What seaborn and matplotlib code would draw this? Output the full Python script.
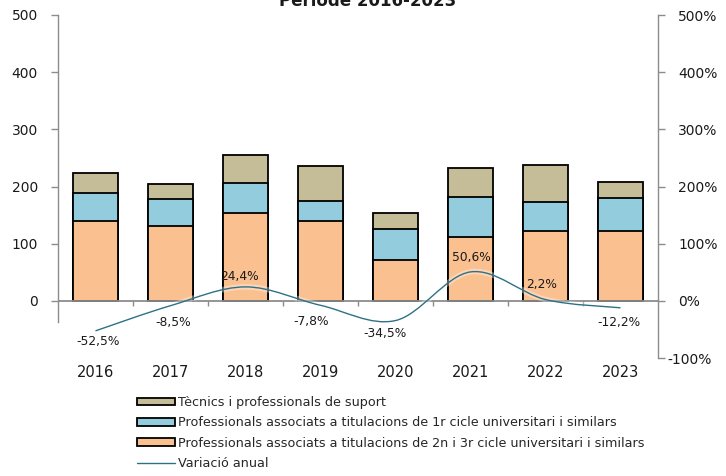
import numpy as np
import pandas as pd
import matplotlib
matplotlib.use("Agg")
import matplotlib.pyplot as plt
import matplotlib.patheffects as pe
import matplotlib.transforms as mtransforms
from matplotlib.path import Path
from matplotlib.patches import PathPatch, Patch
from matplotlib.lines import Line2D
import seaborn as sns

# --- data -------------------------------------------------------------
years = ["2016", "2017", "2018", "2019", "2020", "2021", "2022", "2023"]
cicle_2n_3r = [140, 131, 154, 140, 72, 111, 122, 122]
cicle_1r = [48, 47, 52, 34, 54, 71, 51, 58]
tecnics = [36, 27, 49, 61, 28, 50, 64, 28]
variacio = [-52.5, -8.5, 24.4, -7.8, -34.5, 50.6, 2.2, -12.2]

series_names = [
    "Tècnics i professionals de suport",
    "Professionals associats a titulacions de 1r cicle universitari i similars",
    "Professionals associats a titulacions de 2n i 3r cicle universitari i similars",
    "Variació anual",
]
title = "Període 2016-2023"

# --- style ------------------------------------------------------------
c_tec = "#C4BD97"
c_1r = "#93CDDD"
c_2n = "#FAC090"
c_line = "#2E7186"
c_axis = "#8C8C8C"
c_text = "#1a1a1a"
# label nudges in pixels (dx, dy), dy positive = downward
label_nudge = [(2.5, 10.7), (3, 16.4), (-6, -10), (-9, 16), (-10, 12.6),
               (1, -14.7), (-4, -15.4), (-2, 14.7)]

sns.set_theme(style="white")
plt.rcParams["font.family"] = ["DejaVu Sans"]

df = pd.DataFrame({
    "year": years,
    "c2n": cicle_2n_3r,
    "c1r": cicle_1r,
    "tec": tecnics,
})
df["lvl2"] = df["c2n"] + df["c1r"]
df["lvl3"] = df["lvl2"] + df["tec"]

fig = plt.figure(figsize=(7.26, 4.76), dpi=100)
ax = fig.add_axes([58 / 726, 1 - 358 / 476, 600 / 726, 343 / 476])

bar_kw = dict(x="year", order=years, width=0.61, edgecolor="black",
              linewidth=1.3, saturation=1, ax=ax, zorder=3)
sns.barplot(data=df, y="lvl3", color=c_tec, **bar_kw)
sns.barplot(data=df, y="lvl2", color=c_1r, **bar_kw)
sns.barplot(data=df, y="c2n", color=c_2n, **bar_kw)

ax.set_xlim(-0.5, len(years) - 0.5)
ax.set_ylim(-100, 500)
ax.set_yticks([0, 100, 200, 300, 400, 500])
ax.set_xlabel("")
ax.set_ylabel("")
ax.tick_params(axis="y", which="both", length=5, width=1, color=c_axis,
               labelsize=10, pad=9.4, left=True, labelcolor=c_text)
ax.tick_params(axis="x", length=0, labelsize=10.5, pad=5, labelcolor=c_text)
for s in ["top", "right", "bottom"]:
    ax.spines[s].set_visible(False)
ax.spines["left"].set_color(c_axis)
ax.spines["left"].set_linewidth(1)
ax.spines["left"].set_bounds(-37, 500)

# category axis at zero with boundary ticks
ax.axhline(0, color=c_axis, lw=1.3, zorder=4)
ax.vlines(np.arange(len(years) - 1) + 0.5, -8.7, 0, color=c_axis, lw=1, zorder=4)

# secondary axis for the annual change
ax2 = ax.twinx()
ax2.set_ylim(-100, 500)
ax2.set_yticks(np.arange(-100, 501, 100))
ax2.set_yticklabels([f"{v}%" for v in range(-100, 501, 100)])
ax2.tick_params(axis="y", length=5, width=1, color=c_axis, labelsize=10,
                pad=9.5, right=True, labelcolor=c_text)
for s in ["top", "left", "bottom"]:
    ax2.spines[s].set_visible(False)
ax2.spines["right"].set_color(c_axis)
ax2.spines["right"].set_linewidth(1)
ax2.grid(False)
# the widest label sits a little further left so it stays inside the figure
fig.canvas.draw()
for lab in ax2.get_yticklabels():
    if lab.get_text().startswith("-"):
        lab.set_transform(lab.get_transform() + mtransforms.ScaledTranslation(
            -0.11, 0, fig.dpi_scale_trans))

# smoothed curve through the yearly points (Catmull-Rom as cubic Bezier)
xs = np.arange(len(years), dtype=float)
ys = np.array(variacio, dtype=float)
pts = np.column_stack([xs, ys])
verts = [tuple(pts[0])]
codes = [Path.MOVETO]
n = len(pts)
for i in range(n - 1):
    p0 = pts[i - 1] if i > 0 else pts[i]
    p1 = pts[i]
    p2 = pts[i + 1]
    p3 = pts[i + 2] if i + 2 < n else pts[i + 1]
    c1 = p1 + (p2 - p0) / 6.0
    c2 = p2 - (p3 - p1) / 6.0
    verts += [tuple(c1), tuple(c2), tuple(p2)]
    codes += [Path.CURVE4] * 3
curve = PathPatch(Path(verts, codes), facecolor="none", edgecolor=c_line,
                  lw=1.0, zorder=5)
curve.set_path_effects([pe.Stroke(linewidth=4, foreground="white", alpha=0.35),
                        pe.Normal()])
ax2.add_patch(curve)

for i, v in enumerate(variacio):
    dx, dy = label_nudge[i]
    txt = f"{v:.1f}%".replace(".", ",")
    ax2.annotate(txt, (xs[i], v), xytext=(dx * 0.72, -dy * 0.72),
                 textcoords="offset points", ha="center", va="center",
                 fontsize=8.8, color=c_text, zorder=6)

fig.text(368 / 726, 1 - 5.5 / 476, title, ha="center", va="baseline",
         fontsize=12, fontweight="bold", color=c_text)

handles = [
    Patch(facecolor=c_tec, edgecolor="black", linewidth=1.3),
    Patch(facecolor=c_1r, edgecolor="black", linewidth=1.3),
    Patch(facecolor=c_2n, edgecolor="black", linewidth=1.3),
    Line2D([0], [0], color=c_line, lw=1.0),
]
fig.legend(handles, series_names, loc="upper left",
           bbox_to_anchor=(137 / 726, 1 - 396 / 476), frameon=False,
           handlelength=2.97, handleheight=0.57, handletextpad=0.2,
           labelspacing=0.58, borderpad=0, borderaxespad=0,
           prop={"family": "DejaVu Sans", "size": 9.2})

fig.savefig("out.png", dpi=100)
